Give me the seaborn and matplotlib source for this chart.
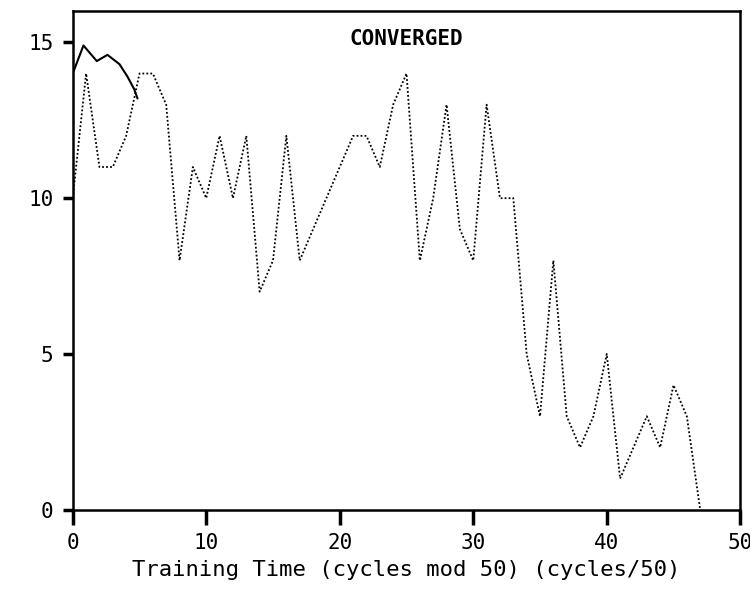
import matplotlib
matplotlib.use('Agg')
import matplotlib.pyplot as plt
import seaborn as sns

# dotted trace: one value per cycle step
cycle = [0, 1, 2, 3, 4, 5, 6, 7, 8, 9, 10, 11, 12, 13, 14, 15, 16, 17, 18, 19,
         20, 21, 22, 23, 24, 25, 26, 27, 28, 29, 30, 31, 32, 33, 34, 35, 36, 37,
         38, 39, 40, 41, 42, 43, 44, 45, 46, 47]
errors = [10, 14, 11, 11, 12, 14, 14, 13, 8, 11, 10, 12, 10, 12, 7, 8, 12, 8,
          9, 10, 11, 12, 12, 11, 13, 14, 8, 10, 13, 9, 8, 13, 10, 10, 5, 3, 8,
          3, 2, 3, 5, 1, 2, 3, 2, 4, 3, 0]

# solid trace at the start
avg_x = [0, 0.8, 1.8, 2.6, 3.5, 4.1, 4.6, 4.85]
avg_y = [14.0, 14.9, 14.4, 14.6, 14.3, 13.9, 13.5, 13.2]

x_ticks = [0, 10, 20, 30, 40, 50]
y_ticks = [0, 5, 10, 15]

sns.set_style('ticks')
plt.rcParams.update({
    'font.family': ['DejaVu Sans Mono', 'DejaVu Sans'],
    'text.color': 'black',
    'axes.labelcolor': 'black',
    'xtick.color': 'black',
    'ytick.color': 'black',
})

fig = plt.figure(figsize=(7.5, 5.9), dpi=100)
ax = fig.add_axes([0.097, 0.136, 0.89, 0.845])

sns.lineplot(x=cycle, y=errors, ax=ax, color='black', linestyle=(0, (1, 1.2)), linewidth=1.3)
sns.lineplot(x=avg_x, y=avg_y, ax=ax, color='black', linewidth=1.5)

ax.set_xlim(0, 50)
ax.set_ylim(0, 16)
ax.set_xticks(x_ticks)
ax.set_yticks(y_ticks)
ax.tick_params(axis='x', bottom=True, direction='out', length=11, width=2.5,
               pad=6, labelsize=15, color='black')
ax.tick_params(axis='y', left=True, direction='out', length=7, width=2.5,
               pad=7, labelsize=15, color='black')

for s in ax.spines.values():
    s.set_visible(True)
    s.set_color('black')
    s.set_linewidth(1.8)

ax.text(25, 15.1, 'CONVERGED', ha='center', va='center', fontsize=15, fontweight='bold')
ax.set_xlabel('Training Time (cycles mod 50) (cycles/50)', fontsize=16, labelpad=5)
ax.set_ylabel('')

fig.savefig('out.png', dpi=100)
